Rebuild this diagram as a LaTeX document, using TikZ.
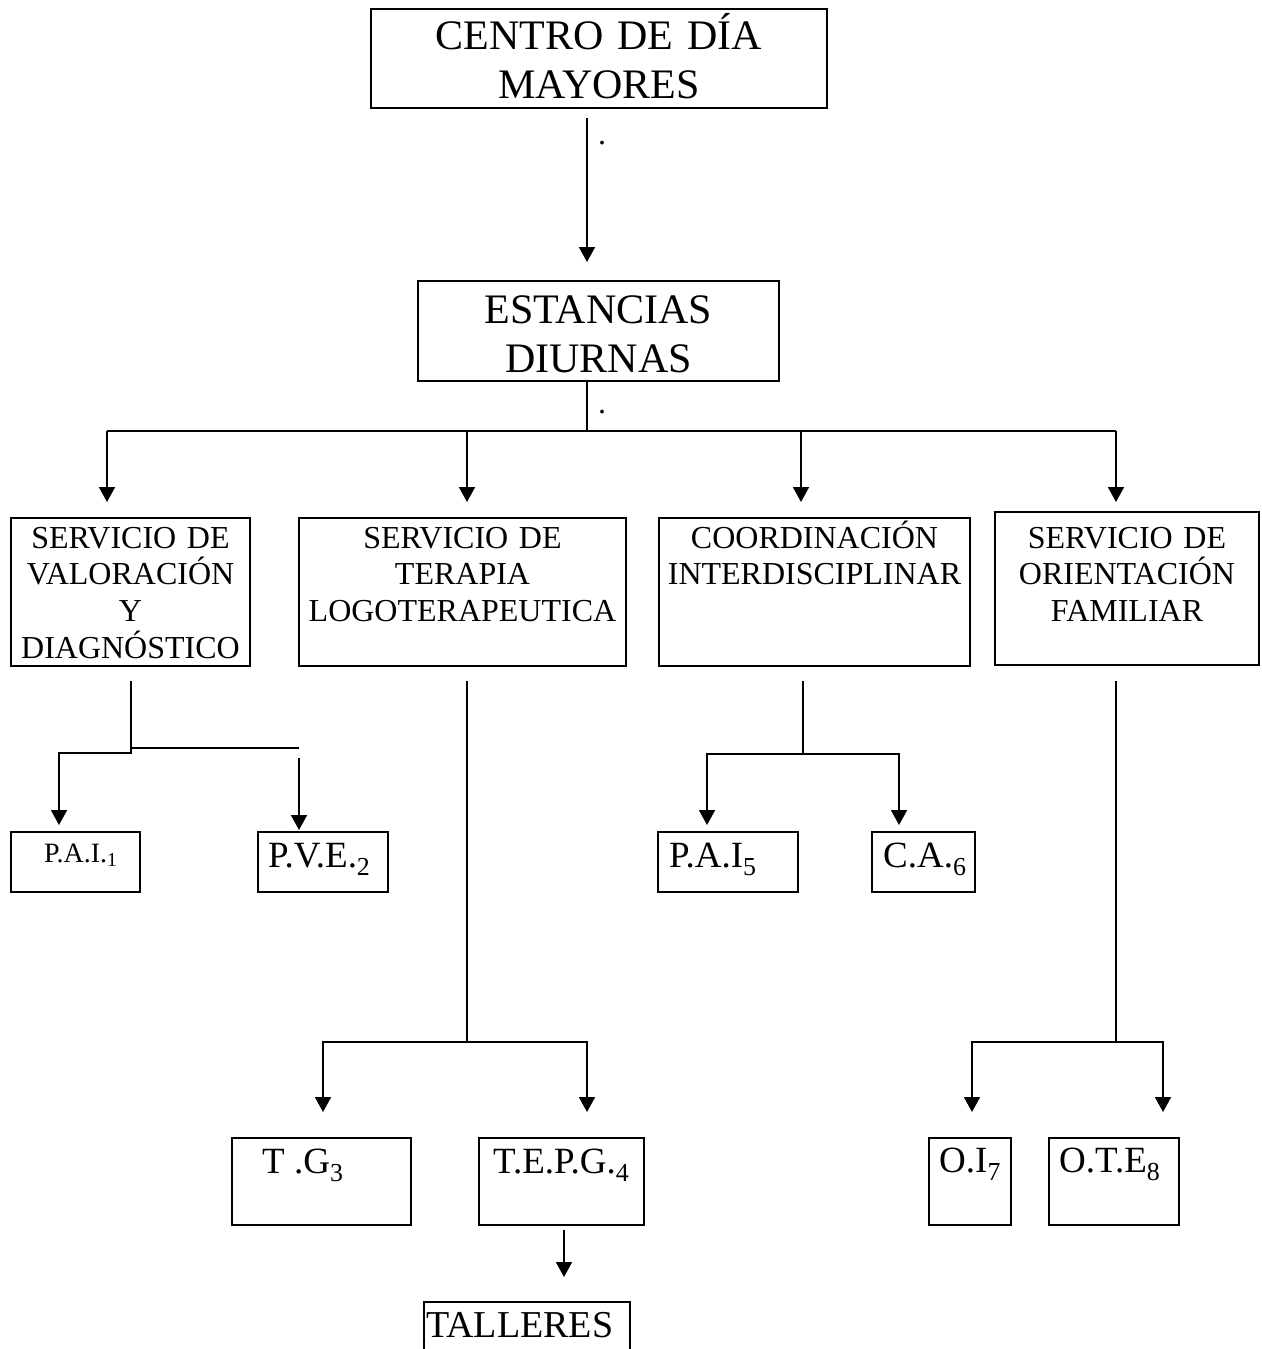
\documentclass[tikz,border=0pt]{standalone}
\usepackage{fontspec}
\setmainfont{Liberation Serif}
\usetikzlibrary{arrows.meta,positioning,calc}
\tikzset{>={Triangle[length=15pt,width=16pt]}}
\tikzset{
  box/.style={draw,line width=2pt,anchor=north west,inner sep=0pt,outer sep=0pt},
  lbl/.style={anchor=base,align=center,inner sep=0pt},
  leaf/.style={anchor=base west,inner sep=0pt,font=\cdLeaf},
  conn/.style={line width=1.8pt}
}
\newcommand\cdTitle{\fontsize{42}{49}\selectfont}
\newcommand\cdServ{\fontsize{32}{36.8}\selectfont}
\newcommand\cdLeaf{\fontsize{37}{40}\selectfont}

\begin{document}
\begin{tikzpicture}[x=1pt,y=-1pt]
\useasboundingbox (0,0) rectangle (1261,1349);
% boxes
\node[box,minimum width=456,minimum height=99] (centro) at (371,9) {};
\node[box,minimum width=361,minimum height=100] (estan) at (418,281) {};
\node[box,minimum width=239,minimum height=148] (valor) at (11,518) {};
\node[box,minimum width=327,minimum height=148] (terap) at (299,518) {};
\node[box,minimum width=311,minimum height=148] (coord) at (659,518) {};
\node[box,minimum width=264,minimum height=153] (orien) at (995,512) {};
\node[box,minimum width=129,minimum height=60] (pai1) at (11,832) {};
\node[box,minimum width=130,minimum height=60] (pve2) at (258,832) {};
\node[box,minimum width=140,minimum height=60] (pai5) at (658,832) {};
\node[box,minimum width=103,minimum height=60] (ca6) at (872,832) {};
\node[box,minimum width=179,minimum height=87] (tg3) at (232,1138) {};
\node[box,minimum width=165,minimum height=87] (tepg4) at (479,1138) {};
\node[box,minimum width=82,minimum height=87] (oi7) at (929,1138) {};
\node[box,minimum width=130,minimum height=87] (ote8) at (1049,1138) {};
\node[box,minimum width=206,minimum height=70] (talleres) at (424,1302) {};
% texts
\node[lbl,font=\cdTitle,text width=450] (centroT) at (599,49) {CENTRO DE DÍA\\MAYORES};
\node[lbl,font=\cdTitle,text width=355] (estanT) at (598.5,323) {ESTANCIAS\\DIURNAS};
\node[lbl,font=\cdServ,text width=235] (valorT) at (130.5,548) {SERVICIO DE\\VALORACIÓN\\Y\\DIAGNÓSTICO};
\node[lbl,font=\cdServ,text width=320] (terapT) at (462.5,548) {SERVICIO DE\\TERAPIA\\LOGOTERAPEUTICA};
\node[lbl,font=\cdServ,text width=305] (coordT) at (814.5,548) {COORDINACIÓN\\INTERDISCIPLINAR};
\node[lbl,font=\cdServ,text width=258] (orienT) at (1127,548) {SERVICIO DE\\ORIENTACIÓN\\FAMILIAR};
\node[leaf,font=\fontsize{28}{32}\selectfont] (pai1T) at (44,862) {P.A.I.\textsubscript{1}};
\node[leaf] (pve2T) at (268,867) {P.V.E.\textsubscript{2}};
\node[leaf] (pai5T) at (669,867) {P.A.I\textsubscript{5}};
\node[leaf] (ca6T) at (883,867) {C.A.\textsubscript{6}};
\node[leaf] (tg3T) at (262,1173) {T .G\textsubscript{3}};
\node[leaf] (tepg4T) at (493,1173) {T.E.P.G.\textsubscript{4}};
\node[leaf] (oi7T) at (939,1172) {O.I\textsubscript{7}};
\node[leaf] (ote8T) at (1059,1172) {O.T.E\textsubscript{8}};
\node[leaf,font=\fontsize{38}{42}\selectfont] (tallT) at (426,1337) {TALLERES};
\node[lbl,font=\cdServ] (dotA) at (602,144) {.};
\node[lbl,font=\cdServ] (dotB) at (602,413) {.};
% junctions
\coordinate (bus) at (587,431);
\coordinate (b1) at (107,431);
\coordinate (b2) at (467,431);
\coordinate (b3) at (801,431);
\coordinate (b4) at (1116,431);
\coordinate (vj) at (131,753);
\coordinate (pj) at (299,758);
\coordinate (cj) at (803,754);
\coordinate (tj) at (467,1042);
\coordinate (oj) at (1116,1042);
\coordinate (tt) at (564,1277);
% connectors
\draw[conn,->] ($(bus |- centro.south)+(0,10)$) -- ($(bus |- estan.north)+(0,-19)$);
\draw[conn] (bus |- estan.south) -- (bus);
\draw[conn] (b1) -- (b4);
\foreach \b/\n in {b1/valor,b2/terap,b3/coord}
  \draw[conn,->,shorten >=16pt] (\b) -- (\b |- \n.north);
\draw[conn,->,shorten >=10pt] (b4) -- (b4 |- orien.north);
\draw[conn,->] ($(vj |- valor.south)+(0,15)$) -- (vj) -| ([shift={(-16.5,-7)}]pai1.north);
\draw[conn] (131,748) -- (299,748);
\draw[conn,->] (pj) -- ($(pj |- pve2.north)+(0,-2)$);
\draw[conn] ($(cj |- coord.south)+(0,15)$) -- (cj);
\draw[conn,->] (cj) -| ([shift={(-21,-7)}]pai5.north);
\draw[conn,->] (cj) -| ([shift={(-24.5,-7)}]ca6.north);
\draw[conn] ($(tj |- terap.south)+(0,15)$) -- (tj);
\draw[conn,->] (tj) -| ([shift={(1.5,-26)}]tg3.north);
\draw[conn,->] (tj) -| ([shift={(25.5,-26)}]tepg4.north);
\draw[conn] ($(oj |- orien.south)+(0,16)$) -- (oj);
\draw[conn,->] (oj) -| ([shift={(2,-26)}]oi7.north);
\draw[conn,->] (oj) -| ([shift={(49,-26)}]ote8.north);
\draw[conn,->] ($(tt |- tepg4.south)+(0,5)$) -- (tt);
\end{tikzpicture}
\end{document}
